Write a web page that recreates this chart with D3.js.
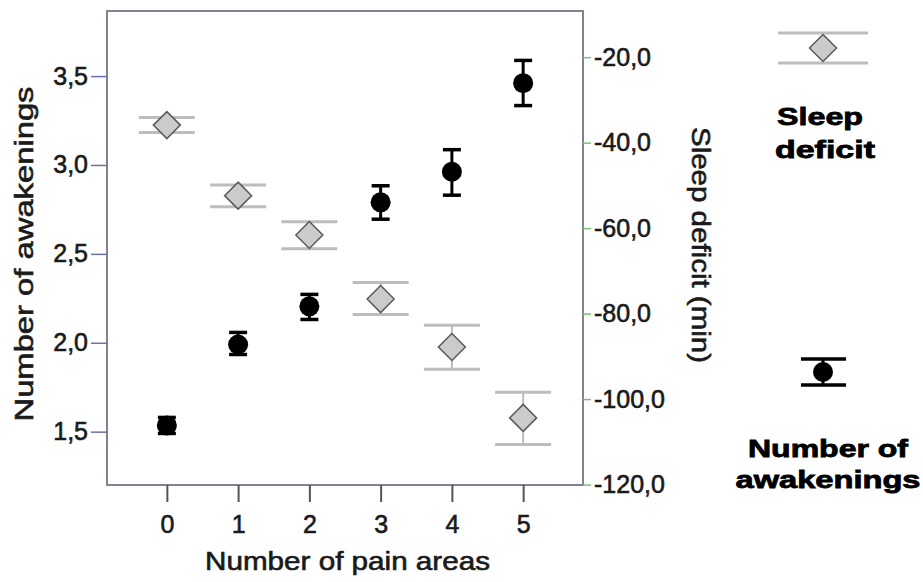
<!DOCTYPE html>
<html>
<head>
<meta charset="utf-8">
<script src="https://cdn.jsdelivr.net/npm/d3@7"></script>
<style>
  html, body { margin: 0; padding: 0; background: #fff; }
  svg { display: block; font-family: "Liberation Sans", Arial, sans-serif; }
</style>
</head>
<body>
<svg id="chart" width="923" height="582"></svg>
<script>
// ---- data ----
const painAreas = [0, 1, 2, 3, 4, 5];
const awakeMean = [1.535, 1.99, 2.205, 2.79, 2.962, 3.46];
const awakeLow  = [1.49, 1.934, 2.131, 2.695, 2.83, 3.334];
const awakeHigh = [1.58, 2.058, 2.272, 2.883, 3.086, 3.588];
const deficitMean = [-35.9, -52.4, -61.6, -76.6, -87.8, -104.4];
const deficitLow  = [-37.6, -55.0, -64.8, -80.2, -93.0, -110.6];
const deficitHigh = [-34.1, -49.9, -58.5, -72.7, -82.7, -98.4];
const leftTicks = [1.5, 2.0, 2.5, 3.0, 3.5];
const rightTicks = [-120, -100, -80, -60, -40, -20];
const xTitle = "Number of pain areas";
const yLeftTitle = "Number of awakenings";
const yRightTitle = "Sleep deficit (min)";
const legendDeficit = ["Sleep", "deficit"];
const legendAwake = ["Number of", "awakenings"];

const svg = d3.select("#chart");
const L = 107, R = 583, T = 11, B = 485;
const ink = "#1a1a1a";

const x = d3.scaleLinear().domain([-0.84, 5.84]).range([L, R]);
const yL = d3.scaleLinear().domain([1.2, 3.866]).range([B, T]);
const yR = d3.scaleLinear().domain([-120.1, -9.2]).range([B, T]);
const comma = v => (v < 0 ? "-" : "") + Math.abs(v).toFixed(1).replace(".", ",");

// frame
svg.append("rect").attr("x", L).attr("y", T).attr("width", R - L).attr("height", B - T)
  .attr("fill", "none").attr("stroke", "#80828f").attr("stroke-width", 2);

function styleText(sel, size) {
  sel.attr("font-size", size).attr("fill", ink)
    .attr("stroke", ink).attr("stroke-width", 0.6)
    .attr("font-family", "Liberation Sans, Arial");
}

// left axis
const gL = svg.append("g").attr("transform", `translate(${L},0)`)
  .call(d3.axisLeft(yL).tickValues(leftTicks).tickFormat(comma).tickSize(16).tickPadding(3).tickSizeOuter(0));
gL.select(".domain").remove();
gL.selectAll(".tick line").attr("stroke", "#6c72a6").attr("stroke-width", 1.5);
styleText(gL.selectAll(".tick text"), 25);

// right axis
const gR = svg.append("g").attr("transform", `translate(${R},0)`)
  .call(d3.axisRight(yR).tickValues(rightTicks).tickFormat(comma).tickSize(8).tickPadding(3).tickSizeOuter(0));
gR.select(".domain").remove();
gR.selectAll(".tick line").attr("stroke", "#7cbf7c").attr("stroke-width", 1.5);
styleText(gR.selectAll(".tick text"), 25);

// bottom axis
const gB = svg.append("g").attr("transform", `translate(0,${B})`)
  .call(d3.axisBottom(x).tickValues(painAreas).tickFormat(d3.format("d")).tickSize(17).tickPadding(13).tickSizeOuter(0));
gB.select(".domain").remove();
gB.selectAll(".tick line").attr("stroke", "#555").attr("stroke-width", 2);
styleText(gB.selectAll(".tick text"), 25);

// titles
styleText(svg.append("text").attr("x", 347.5).attr("y", 570).attr("text-anchor", "middle")
  .attr("textLength", 285).attr("lengthAdjust", "spacingAndGlyphs").text(xTitle), 25);
styleText(svg.append("text").attr("transform", "translate(33,254) rotate(-90)").attr("text-anchor", "middle")
  .attr("textLength", 335).attr("lengthAdjust", "spacingAndGlyphs").text(yLeftTitle), 26);
styleText(svg.append("text").attr("transform", "translate(692,245) rotate(90)").attr("text-anchor", "middle")
  .attr("textLength", 236).attr("lengthAdjust", "spacingAndGlyphs").text(yRightTitle), 26);

// sleep deficit series
const defData = painAreas.map((p, i) => ({p, m: deficitMean[i], lo: deficitLow[i], hi: deficitHigh[i]}));
const gD = svg.append("g");
const grey = "#bdbdbd";
gD.selectAll("line.v").data(defData).join("line")
  .attr("x1", d => x(d.p)).attr("x2", d => x(d.p))
  .attr("y1", d => yR(d.lo)).attr("y2", d => yR(d.hi))
  .attr("stroke", grey).attr("stroke-width", 2);
gD.selectAll("line.cl").data(defData).join("line")
  .attr("x1", d => x(d.p) - 28).attr("x2", d => x(d.p) + 28)
  .attr("y1", d => yR(d.lo)).attr("y2", d => yR(d.lo))
  .attr("stroke", grey).attr("stroke-width", 3);
gD.selectAll("line.ch").data(defData).join("line")
  .attr("x1", d => x(d.p) - 28).attr("x2", d => x(d.p) + 28)
  .attr("y1", d => yR(d.hi)).attr("y2", d => yR(d.hi))
  .attr("stroke", grey).attr("stroke-width", 3);
const diamond = (cx, cy, h) => `M${cx},${cy - h}L${cx + h},${cy}L${cx},${cy + h}L${cx - h},${cy}Z`;
gD.selectAll("path").data(defData).join("path")
  .attr("d", d => diamond(x(d.p), yR(d.m), 13.5))
  .attr("fill", "#cbcbcb").attr("stroke", "#5a5a5a").attr("stroke-width", 1.5);

// awakenings series
const awData = painAreas.map((p, i) => ({p, m: awakeMean[i], lo: awakeLow[i], hi: awakeHigh[i]}));
const gA = svg.append("g");
gA.selectAll("line.v").data(awData).join("line")
  .attr("x1", d => x(d.p)).attr("x2", d => x(d.p))
  .attr("y1", d => yL(d.lo)).attr("y2", d => yL(d.hi))
  .attr("stroke", "#000").attr("stroke-width", 3);
gA.selectAll("line.cl").data(awData).join("line")
  .attr("x1", d => x(d.p) - 9).attr("x2", d => x(d.p) + 9)
  .attr("y1", d => yL(d.lo)).attr("y2", d => yL(d.lo))
  .attr("stroke", "#000").attr("stroke-width", 3.5);
gA.selectAll("line.ch").data(awData).join("line")
  .attr("x1", d => x(d.p) - 9).attr("x2", d => x(d.p) + 9)
  .attr("y1", d => yL(d.hi)).attr("y2", d => yL(d.hi))
  .attr("stroke", "#000").attr("stroke-width", 3.5);
gA.selectAll("circle").data(awData).join("circle")
  .attr("cx", d => x(d.p)).attr("cy", d => yL(d.m)).attr("r", 10)
  .attr("fill", "#000");

// legend: sleep deficit
const lg = svg.append("g");
lg.append("line").attr("x1", 778).attr("x2", 868).attr("y1", 33).attr("y2", 33).attr("stroke", grey).attr("stroke-width", 3);
lg.append("line").attr("x1", 778).attr("x2", 868).attr("y1", 63).attr("y2", 63).attr("stroke", grey).attr("stroke-width", 3);
lg.append("line").attr("x1", 823).attr("x2", 823).attr("y1", 33).attr("y2", 63).attr("stroke", grey).attr("stroke-width", 2);
lg.append("path").attr("d", diamond(823, 48, 13.5)).attr("fill", "#cbcbcb").attr("stroke", "#5a5a5a").attr("stroke-width", 1.5);
lg.append("text").attr("x", 777).attr("y", 125).attr("font-size", 24).attr("font-weight", "bold")
  .attr("stroke", "#000").attr("stroke-width", 0.8)
  .attr("textLength", 86).attr("lengthAdjust", "spacingAndGlyphs").text(legendDeficit[0]);
lg.append("text").attr("x", 775).attr("y", 158).attr("font-size", 24).attr("font-weight", "bold")
  .attr("stroke", "#000").attr("stroke-width", 0.8)
  .attr("textLength", 100).attr("lengthAdjust", "spacingAndGlyphs").text(legendDeficit[1]);

// legend: awakenings
lg.append("line").attr("x1", 823).attr("x2", 823).attr("y1", 359).attr("y2", 385).attr("stroke", "#000").attr("stroke-width", 3);
lg.append("line").attr("x1", 801).attr("x2", 846).attr("y1", 359).attr("y2", 359).attr("stroke", "#000").attr("stroke-width", 3.5);
lg.append("line").attr("x1", 801).attr("x2", 846).attr("y1", 385).attr("y2", 385).attr("stroke", "#000").attr("stroke-width", 3.5);
lg.append("circle").attr("cx", 823).attr("cy", 372).attr("r", 10).attr("fill", "#000");
lg.append("text").attr("x", 828).attr("y", 457).attr("text-anchor", "middle").attr("font-size", 24).attr("font-weight", "bold")
  .attr("stroke", "#000").attr("stroke-width", 0.8)
  .attr("textLength", 160).attr("lengthAdjust", "spacingAndGlyphs").text(legendAwake[0]);
lg.append("text").attr("x", 828).attr("y", 488).attr("text-anchor", "middle").attr("font-size", 24).attr("font-weight", "bold")
  .attr("stroke", "#000").attr("stroke-width", 0.8)
  .attr("textLength", 185).attr("lengthAdjust", "spacingAndGlyphs").text(legendAwake[1]);
</script>
</body>
</html>
